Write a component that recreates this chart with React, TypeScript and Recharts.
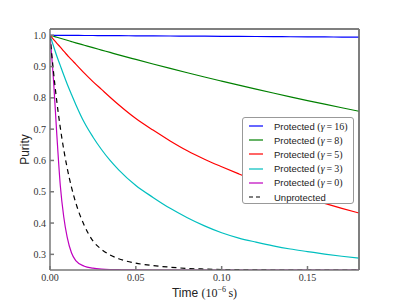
import React from 'react';
import { LineChart, Line, XAxis, YAxis, Legend, ReferenceLine } from 'recharts';

const time = [0, 0.002, 0.004, 0.006, 0.008, 0.01, 0.0125, 0.015, 0.02, 0.025, 0.03, 0.035, 0.04, 0.05, 0.06, 0.07, 0.08, 0.09, 0.1, 0.11, 0.12, 0.13, 0.14, 0.15, 0.16, 0.17, 0.18];

const gamma16 = [1, 0.9999, 0.9999, 0.9998, 0.9997, 0.9997, 0.9996, 0.9995, 0.9993, 0.9992, 0.999, 0.9988, 0.9987, 0.9983, 0.998, 0.9977, 0.9973, 0.997, 0.9967, 0.9963, 0.996, 0.9957, 0.9953, 0.995, 0.9947, 0.9943, 0.994];
const gamma8 = [1, 0.9967, 0.9935, 0.9903, 0.9871, 0.9839, 0.9799, 0.9759, 0.9681, 0.9603, 0.9527, 0.9451, 0.9375, 0.9228, 0.9083, 0.8941, 0.8803, 0.8667, 0.8535, 0.8405, 0.8278, 0.8154, 0.8032, 0.7913, 0.7797, 0.7683, 0.7572];
const gamma5 = [1, 0.987, 0.974, 0.962, 0.949, 0.937, 0.922, 0.908, 0.879, 0.852, 0.827, 0.802, 0.778, 0.734, 0.697, 0.6625, 0.631, 0.604, 0.58, 0.557, 0.535, 0.515, 0.497, 0.48, 0.463, 0.447, 0.432];
const gamma3 = [1, 0.966, 0.933, 0.903, 0.873, 0.844, 0.811, 0.779, 0.721, 0.675, 0.635, 0.6, 0.57, 0.52, 0.482, 0.447, 0.417, 0.391, 0.369, 0.352, 0.339, 0.327, 0.317, 0.309, 0.301, 0.294, 0.288];
const gamma0 = [1, 0.86, 0.68, 0.52, 0.42, 0.355, 0.305, 0.28, 0.262, 0.256, 0.253, 0.2515, 0.251, 0.2502, 0.25, 0.25, 0.25, 0.25, 0.25, 0.25, 0.25, 0.25, 0.25, 0.25, 0.25, 0.25, 0.25];
const unprotected = [1, 0.885, 0.787, 0.705, 0.635, 0.576, 0.515, 0.465, 0.392, 0.343, 0.316, 0.298, 0.286, 0.272, 0.264, 0.259, 0.255, 0.253, 0.2515, 0.251, 0.2505, 0.25, 0.25, 0.25, 0.25, 0.25, 0.25];

const xTicks = [0, 0.05, 0.1, 0.15];
const yTicks = [0.3, 0.4, 0.5, 0.6, 0.7, 0.8, 0.9, 1.0];
const xDomain = [0, 0.18];
const yDomain = [0.25, 1.02];

const series = [
  { key: 'g16', values: gamma16, color: '#0000ff', gamma: '16', dashed: false },
  { key: 'g8', values: gamma8, color: '#008000', gamma: '8', dashed: false },
  { key: 'g5', values: gamma5, color: '#ff0000', gamma: '5', dashed: false },
  { key: 'g3', values: gamma3, color: '#00bfbf', gamma: '3', dashed: false },
  { key: 'g0', values: gamma0, color: '#bf00bf', gamma: '0', dashed: false },
  { key: 'un', values: unprotected, color: '#000000', gamma: '', dashed: true },
];

const data = time.map((t, i) => {
  const row: any = { t };
  series.forEach((s) => { row[s.key] = s.values[i]; });
  return row;
});

const frame = '#777';
const serif = '"Liberation Serif", "DejaVu Serif", serif';
const sans = '"Liberation Sans", Arial, sans-serif';

function LegendBox() {
  return (
    <div style={{
      border: '1px solid #999', borderRadius: 3, background: '#fff',
      width: 112, height: 87, boxSizing: 'border-box', paddingTop: 1,
    }}>
      {series.map((s) => (
        <div key={s.key} style={{ display: 'flex', alignItems: 'center', height: 14.2 }}>
          <svg width={31} height={6} style={{ flex: 'none' }}>
            <line x1={6} x2={20} y1={3} y2={3} stroke={s.color} strokeWidth={1.2}
              strokeDasharray={s.dashed ? '4 3' : undefined} />
          </svg>
          <span style={{ fontFamily: sans, fontSize: 9.5, color: '#222', whiteSpace: 'pre' }}>
            {s.dashed ? 'Unprotected' : 'Protected\u00a0'}
          </span>
          {!s.dashed && (
            <span style={{ fontFamily: serif, fontSize: 10, color: '#222', whiteSpace: 'pre' }}>
              (<i>γ</i>{'\u2009=\u2009'}{s.gamma})
            </span>
          )}
        </div>
      ))}
    </div>
  );
}

export default function App() {
  return (
    <div style={{ position: 'absolute', left: 0, top: 0, width: 399, height: 301, background: '#fff' }}>
      <style>{`.recharts-cartesian-axis-tick-value { font-family: ${serif}; }`}</style>
      <LineChart width={399} height={301} data={data} margin={{ top: 29, right: 40, bottom: 0, left: 0 }}>
        <XAxis
          dataKey="t" type="number" domain={xDomain} ticks={xTicks} allowDataOverflow
          height={31} tickSize={-4} tickMargin={8}
          tickFormatter={(v: number) => v.toFixed(2)}
          tick={{ fontFamily: serif, fontSize: 10, fill: '#333' }}
          stroke={frame} strokeWidth={1.5}
          label={{
            content: (p: any) => {
              const vb = p.viewBox;
              return (
                <text x={vb.x + vb.width / 2} y={vb.y + 27} textAnchor="middle" fill="#222">
                  <tspan fontFamily={sans} fontSize={12}>Time </tspan>
                  <tspan fontFamily={serif} fontSize={12}>(10</tspan>
                  <tspan fontFamily={serif} fontSize={8} dy={-5}>−6</tspan>
                  <tspan fontFamily={serif} fontSize={12} dy={5}>{'\u2009s)'}</tspan>
                </text>
              );
            },
          }}
        />
        <XAxis
          xAxisId="top" orientation="top" mirror dataKey="t" type="number" domain={xDomain} ticks={xTicks}
          allowDataOverflow height={20} tick={false} tickSize={4} stroke={frame} strokeWidth={1.5}
        />
        <YAxis
          type="number" domain={yDomain} ticks={yTicks} allowDataOverflow
          width={50} tickSize={-4} tickMargin={8}
          tickFormatter={(v: number) => v.toFixed(1)}
          tick={{ fontFamily: serif, fontSize: 10, fill: '#333' }}
          stroke={frame} strokeWidth={1.5}
          label={{
            content: (p: any) => {
              const vb = p.viewBox;
              const cx = vb.x + 29;
              const cy = vb.y + vb.height / 2;
              return (
                <text x={cx} y={cy} textAnchor="middle" fontFamily={sans} fontSize={12} fill="#222"
                  transform={`rotate(-90 ${cx} ${cy})`}>
                  Purity
                </text>
              );
            },
          }}
        />
        <YAxis
          yAxisId="right" orientation="right" mirror type="number" domain={yDomain} ticks={yTicks}
          allowDataOverflow width={20} tick={false} tickSize={4} stroke={frame} strokeWidth={1.5}
        />
        <ReferenceLine y={yDomain[1]} stroke={frame} strokeWidth={1.5} />
        <ReferenceLine x={xDomain[1]} stroke={frame} strokeWidth={1.5} />
        {series.map((s) => (
          <Line
            key={s.key} dataKey={s.key} type="monotone" stroke={s.color} strokeWidth={1.2}
            strokeDasharray={s.dashed ? '5 4' : undefined} dot={false} activeDot={false}
            isAnimationActive={false}
          />
        ))}
        <Legend
          layout="horizontal" verticalAlign="middle" align="center"
          wrapperStyle={{ left: 242, top: 117, width: 112, height: 87 }}
          content={() => <LegendBox />}
        />
      </LineChart>
    </div>
  );
}
